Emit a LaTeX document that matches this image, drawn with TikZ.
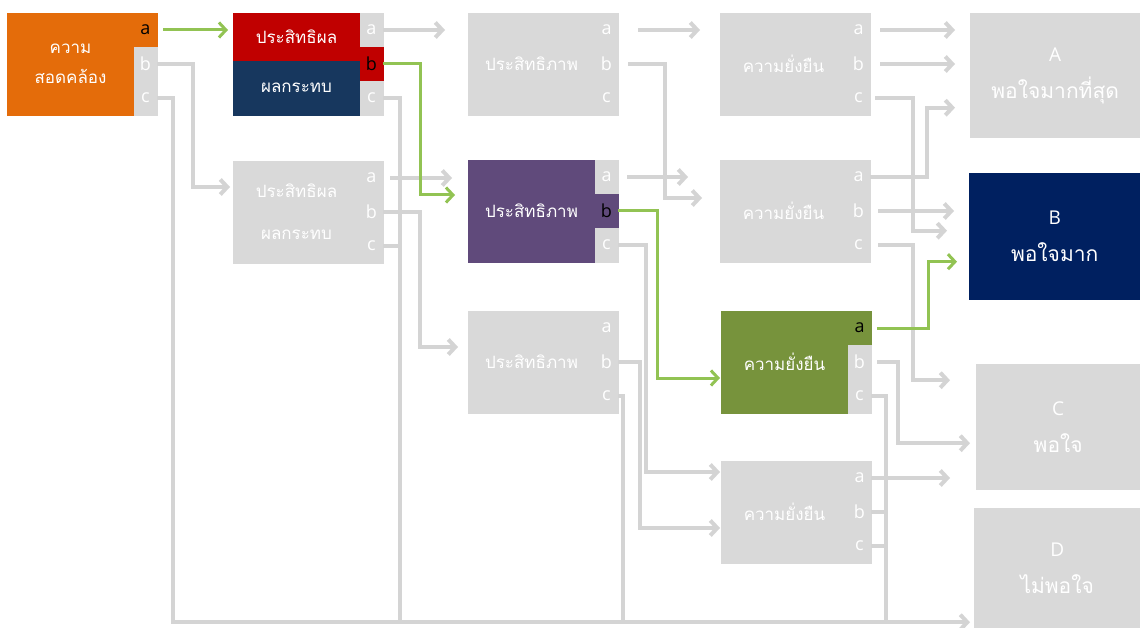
\documentclass[tikz,border=0pt]{standalone}
\usepackage{fontspec}
\setmainfont{Open Sans}
\newfontfamily\thaifont[Script=Thai]{Loma}
\usetikzlibrary{arrows.meta}

\definecolor{boxgray}{HTML}{D9D9D9}
\definecolor{linegray}{HTML}{D4D4D4}
\definecolor{korange}{HTML}{E46C0A}
\definecolor{pred}{HTML}{C00000}
\definecolor{pnavy}{HTML}{17375E}
\definecolor{epurple}{HTML}{604A7B}
\definecolor{sgreen}{HTML}{77933C}
\definecolor{bnavy}{HTML}{002060}
\definecolor{lgreen}{HTML}{92C353}

\begin{document}
\begin{tikzpicture}[x=1pt, y=-1pt,
  body/.style = {rectangle, inner sep=0pt, outer sep=0pt, minimum width=127pt, minimum height=102pt, anchor=north west, fill=#1, draw=#1, line width=0.8pt, text=white, align=center, font=\thaifont\fontsize{17}{20}\selectfont},
  body/.default = boxgray,
  tab/.style = {rectangle, inner sep=0pt, outer sep=0pt, minimum width=23pt, minimum height=34pt, anchor=north west, fill=#1, draw=#1, line width=0.8pt, text=white, font=\fontsize{18}{20}\selectfont},
  tab/.default = boxgray,
  res/.style = {rectangle, inner sep=0pt, anchor=north west, fill=#1, text=white, align=center, font=\fontsize{19}{22}\selectfont},
  res/.default = boxgray,
  gline/.style = {draw=linegray, line width=4pt},
  garr/.style = {gline, -{Straight Barb[length=7pt, width=15pt]}},
  vline/.style = {draw=lgreen, line width=3pt},
  varr/.style = {vline, -{Straight Barb[length=7pt, width=15pt]}}]
	\useasboundingbox (0,0) rectangle (1140,628);

	% column 1
	\node[body=korange] (k) at (7,13) {ความ\\[10pt]สอดคล้อง};
	\node[tab=korange, text=black] (ka) at (k.north east) {a};
	\node[tab] (kb) at (ka.south west) {b};
	\node[tab] (kc) at (kb.south west) {c};

	% column 2
	\node[body=pred, minimum height=48pt] (p1) at (233,13) {ประสิทธิผล};
	\node[body=pnavy, minimum height=54pt] (p1n) at (p1.south west) {ผลกระทบ};
	\node[tab] (p1a) at (p1.north east) {a};
	\node[tab=pred, text=black] (p1b) at (p1a.south west) {b};
	\node[tab] (p1c) at (p1b.south west) {c};

	\node[body] (p2) at (233,161) {ประสิทธิผล\\[22pt]ผลกระทบ};
	\node[tab] (p2a) at (p2.north east) {a};
	\node[tab] (p2b) at (p2a.south west) {b};
	\node[tab] (p2c) at (p2b.south west) {c};

	% column 3
	\node[body] (e1) at (468,13) {ประสิทธิภาพ};
	\node[tab] (e1a) at (e1.north east) {a};
	\node[tab] (e1b) at (e1a.south west) {b};
	\node[tab] (e1c) at (e1b.south west) {c};

	\node[body=epurple] (e2) at (468,160) {ประสิทธิภาพ};
	\node[tab] (e2a) at (e2.north east) {a};
	\node[tab=epurple, text=black] (e2b) at (e2a.south west) {b};
	\node[tab] (e2c) at (e2b.south west) {c};

	\node[body] (e3) at (468,311) {ประสิทธิภาพ};
	\node[tab] (e3a) at (e3.north east) {a};
	\node[tab] (e3b) at (e3a.south west) {b};
	\node[tab] (e3c) at (e3b.south west) {c};

	% column 4
	\node[body] (s1) at (720,13) {ความยั่งยืน};
	\node[tab] (s1a) at (s1.north east) {a};
	\node[tab] (s1b) at (s1a.south west) {b};
	\node[tab] (s1c) at (s1b.south west) {c};

	\node[body] (s2) at (720,160) {ความยั่งยืน};
	\node[tab] (s2a) at (s2.north east) {a};
	\node[tab] (s2b) at (s2a.south west) {b};
	\node[tab] (s2c) at (s2b.south west) {c};

	\node[body=sgreen] (s3) at (721,311) {ความยั่งยืน};
	\node[tab=sgreen, text=black] (s3a) at (s3.north east) {a};
	\node[tab] (s3b) at (s3a.south west) {b};
	\node[tab] (s3c) at (s3b.south west) {c};

	\node[body] (s4) at (721,461) {ความยั่งยืน};
	\node[tab] (s4a) at (s4.north east) {a};
	\node[tab] (s4b) at (s4a.south west) {b};
	\node[tab] (s4c) at (s4b.south west) {c};

	% results
	\node[res, minimum width=170pt, minimum height=125pt] (rA) at (970,13) {A\\[15pt]{\thaifont\fontsize{21}{22}\selectfont พอใจมากที่สุด}};
	\node[res=bnavy, minimum width=171pt, minimum height=127pt] (rB) at (969,173) {B\\[15pt]{\thaifont\fontsize{21}{22}\selectfont พอใจมาก}};
	\node[res, minimum width=164pt, minimum height=126pt] (rC) at (976,364) {C\\[15pt]{\thaifont\fontsize{21}{22}\selectfont พอใจ}};
	\node[res, minimum width=166pt, minimum height=120pt] (rD) at (974,508) {D\\[15pt]{\thaifont\fontsize{21}{22}\selectfont ไม่พอใจ}};
	\coordinate (bus) at ([yshift=-54pt]rD.west);

	% gray connectors
	\draw[garr, shorten >=3pt] (kb.east) -- ++(36,0) |- ([yshift=25pt]p2.west);
	\draw[garr, shorten >=4pt] (kc.east) -- ++(16,0) |- (bus);
	\draw[garr, shorten >=23pt] (p1a.east) -- (p1a.east -| e1.west);
	\draw[gline] (p1c.east) -- ++(17,0) coordinate (t1) -- (t1 |- bus);
	\draw[gline] (p2c.east) -- (p2c.east -| t1);
	\draw[garr, shorten <=7pt, shorten >=16pt] (p2a.east) -- (p2a.east -| e2.west);
	\draw[garr, shorten >=10pt] (p2b.east) -- ++(37,0) |- ([yshift=15pt]e3.west);

	\draw[garr, shorten <=20pt, shorten >=20pt] (e1a.east) -- (e1a.east -| s1.west);
	\draw[garr, shorten <=10pt, shorten >=18pt] (e1b.east) -- ++(47,0) |- ([yshift=13pt]s2.west);
	\draw[garr, shorten <=9pt, shorten >=32pt] (e2a.east) -- (e2a.east -| s2.west);
	\draw[garr, shorten >=1pt] (e2c.east) -- ++(28,0) |- ([yshift=40pt]s4.west);
	\draw[garr, shorten >=1pt] (e3b.east) -- ++(22,0) |- ([yshift=-16pt]s4.west);
	\draw[gline] (e3c.east) -- ++(5,0) coordinate (t2) -- (t2 |- bus);

	\draw[garr, shorten <=10pt, shorten >=15pt] (s1a.east) -- (s1a.east -| rA.west);
	\draw[garr, shorten <=10pt, shorten >=15pt] (s1b.east) -- (s1b.east -| rA.west);
	\draw[garr, shorten <=5pt, shorten >=22pt] (s1c.east) -- ++(43,0) |- ([yshift=6pt]rB.west);
	\draw[garr, shorten >=15pt] (s2a.east) -- ++(57,0) |- ([yshift=-32pt]rA.west);
	\draw[garr, shorten <=8pt, shorten >=15pt] (s2b.east) -- (s2b.east -| rB.west);
	\draw[garr, shorten <=8pt, shorten >=26pt] (s2c.east) -- ++(43,0) |- ([yshift=47pt]rC.west);
	\draw[garr, shorten <=6pt, shorten >=6pt] (s3b.east) -- ++(27,0) |- ([yshift=-16pt]rC.west);
	\draw[gline] (s3c.east) -- ++(15,0) coordinate (t3) -- (t3 |- bus);
	\draw[garr, shorten >=26pt] (s4a.east) -- (s4a.east -| rC.west);
	\draw[gline] (s4b.east) -- (s4b.east -| t3);
	\draw[gline] (s4c.east) -- (s4c.east -| t3);

	% green path
	\draw[varr, shorten <=6pt, shorten >=5pt] (ka.east) -- (ka.east -| p1.west);
	\draw[varr, shorten >=13pt] (p1b.east) -- ++(37,0) |- ([yshift=16pt]e2.west);
	\draw[varr, shorten >=1pt] (e2b.east) -- ++(39,0) |- ([yshift=-16pt]s3.west);
	\draw[varr, shorten <=6pt, shorten >=12pt] (s3a.east) -- ++(57,0) |- ([yshift=-25pt]rB.west);
\end{tikzpicture}
\end{document}
